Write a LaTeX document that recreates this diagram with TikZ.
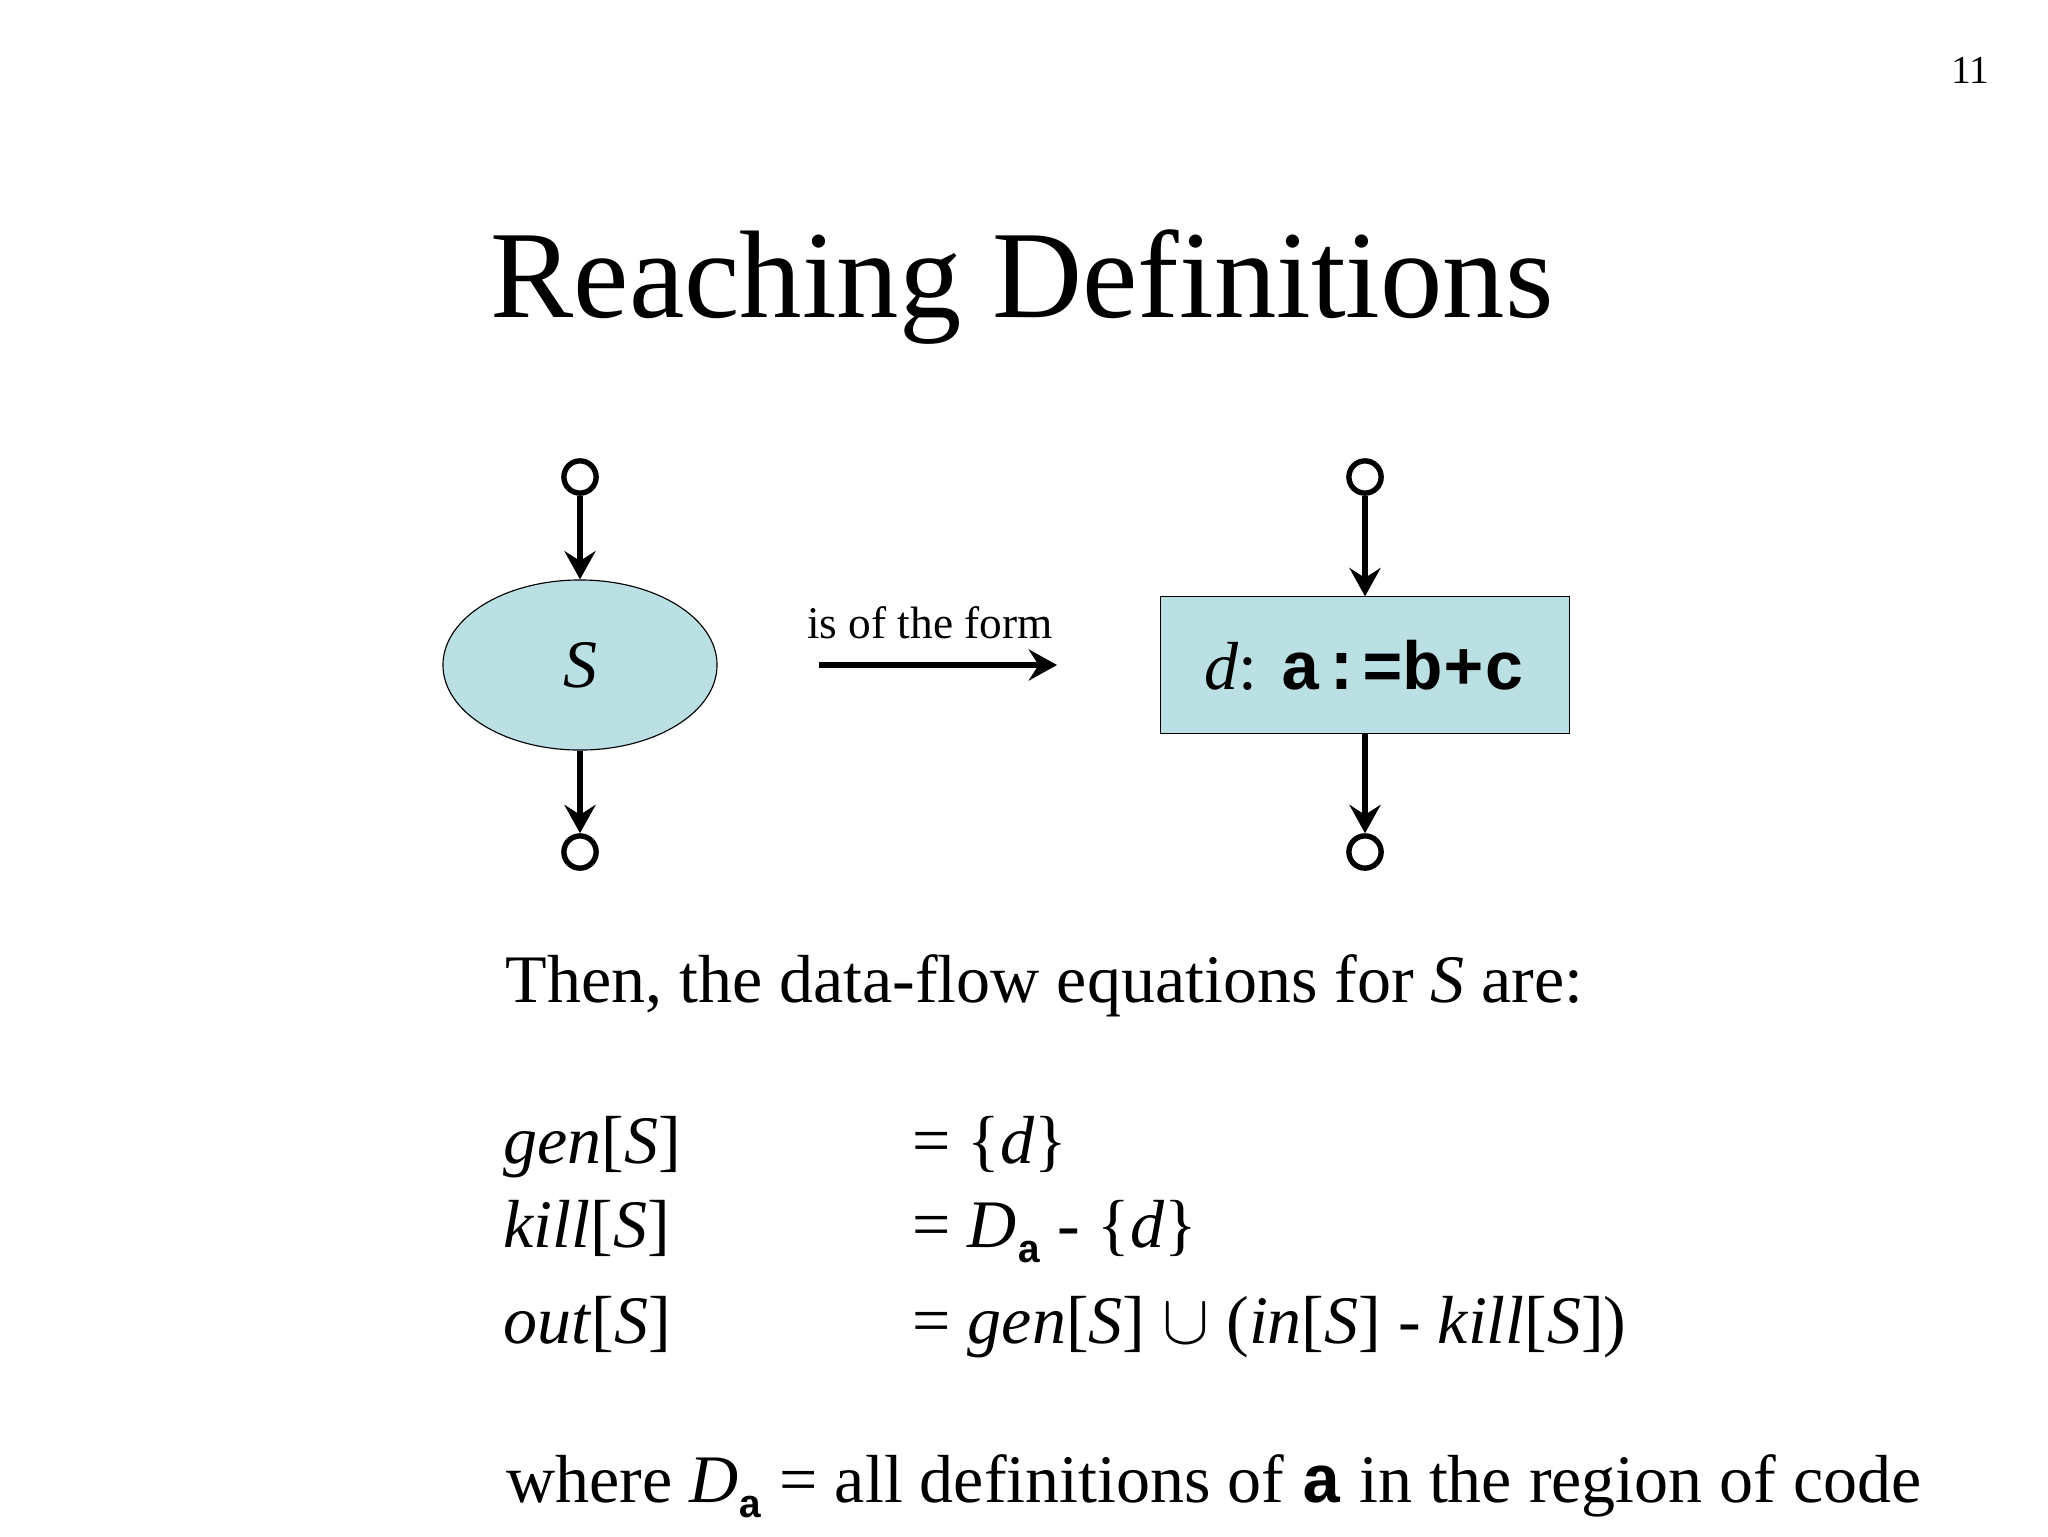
\documentclass[tikz,border=0pt]{standalone}
\usepackage{fontspec}
\setmainfont{Liberation Serif}
\setmonofont{Liberation Mono}
\usetikzlibrary{positioning, arrows.meta, shapes.geometric}
\definecolor{slidecyan}{HTML}{BAE0E3}

\newcommand{\code}[1]{\textbf{\texttt{#1}}}
\newcommand{\suba}{\raisebox{-5.5pt}{\fontsize{14}{14}\selectfont\code{a}}}

\begin{document}
\begin{tikzpicture}[x=0.0124cm, y=-0.0124cm,
        port/.style={circle, draw, line width=1.9pt, fill=white, minimum size=0.4cm, inner sep=0pt},
        flow/.style={-{Stealth[length=10pt, width=11pt, inset=3.5pt]}, line width=1.9pt},
        txt/.style={inner sep=0pt, font=\fontsize{24}{28}\selectfont}]
      \useasboundingbox (0,0) rectangle (2048,1536);

      % Title
      \node[inner sep=0pt, anchor=base, font=\fontsize{44}{50}\selectfont] (title) at (1022,317) {Reaching Definitions};
      \node[inner sep=0pt, anchor=base east, font=\fontsize{14}{16}\selectfont] (pageno) at (1990,84) {11};

      % Nodes
      \node[ellipse, draw, fill=slidecyan, minimum width=3.4cm, minimum height=2.11cm, inner sep=0pt,
            font=\fontsize{24}{28}\selectfont] (snode) at (580,665) {\textit{S}};
      \node[port] (sin) at (580,477) {};
      \node[port] (sout) at (580,852) {};

      \node[rectangle, draw, fill=slidecyan, minimum width=5.08cm, minimum height=1.69cm, inner sep=0pt,
            font=\fontsize{24}{28}\selectfont] (dnode) at (1365,665) {\textit{d}: \code{a:=b+c}};
      \node[port] (din) at (1365,477) {};
      \node[port] (dout) at (1365,852) {};

      \coordinate (formstart) at (819,665);
      \coordinate (formend) at (1057,665);
      \node[inner sep=0pt, anchor=base, font=\fontsize{16}{18}\selectfont] (formlabel) at (930,638) {is of the form};

      % Edges
      \draw[flow] (sin) -- (snode);
      \draw[flow] (snode) -- (sout);
      \draw[flow] (din) -- (dnode);
      \draw[flow] (dnode) -- (dout);
      \draw[flow] (formstart) -- (formend);

      % Equations
      \node[txt, anchor=base west] (then) at (505,1002) {Then, the data-flow equations for \textit{S} are:};
      \node[txt, anchor=base west] (genlhs) at (503,1163) {\textit{gen}[\textit{S}]};
      \node[txt, anchor=base west] (genrhs) at (912,1163) {= \{\textit{d}\}};
      \node[txt, anchor=base west] (killlhs) at (503,1247) {\textit{kill}[\textit{S}]};
      \node[txt, anchor=base west] (killrhs) at (912,1247) {= \textit{D}\suba\ - \{\textit{d}\}};
      \node[txt, anchor=base west] (outlhs) at (503,1343) {\textit{out}[\textit{S}]};
      \node[txt, anchor=base west] (outrhs) at (912,1343) {= \textit{gen}[\textit{S}] $\cup$ (\textit{in}[\textit{S}] - \textit{kill}[\textit{S}])};
      \node[txt, anchor=base west] (where) at (506,1502) {where \textit{D}\suba\ = all definitions of \code{a} in the region of code};
    \end{tikzpicture}
\end{document}
